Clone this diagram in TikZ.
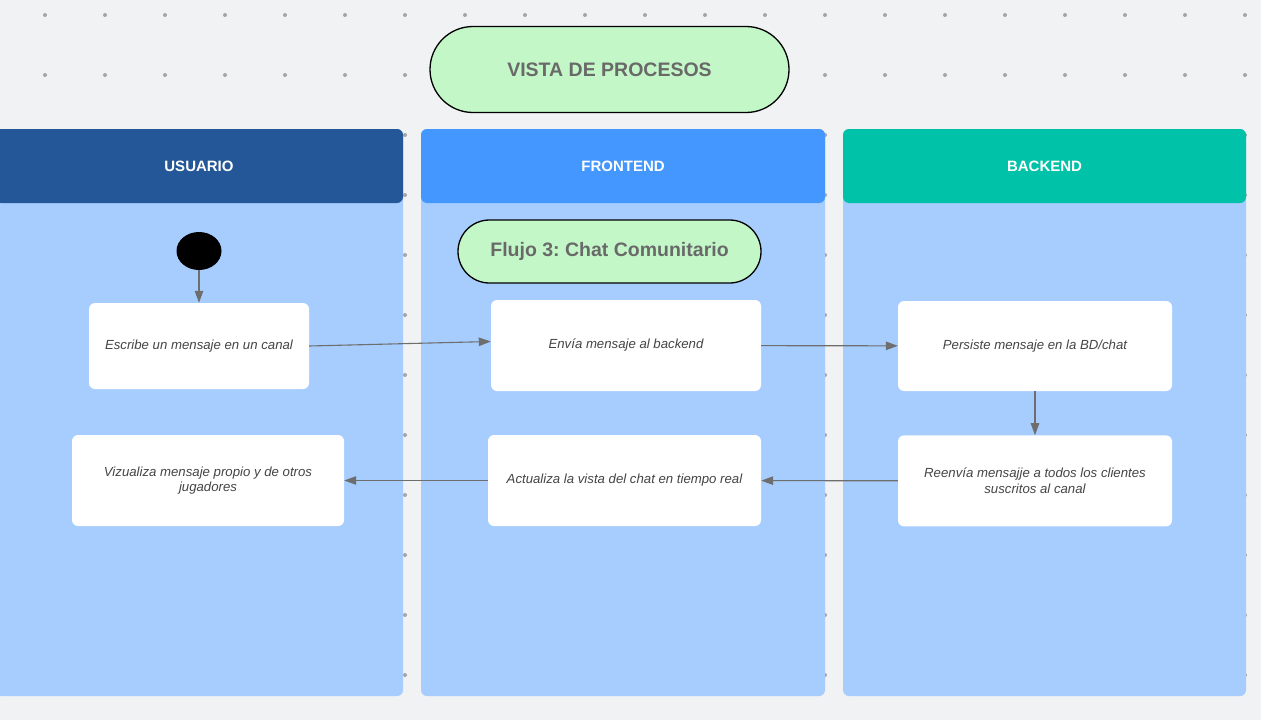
\documentclass[tikz,border=0pt]{standalone}
\usepackage{fontspec}
\setmainfont{Liberation Sans}
\usetikzlibrary{positioning,shapes.geometric,arrows.meta}
\frenchspacing

\definecolor{bggray}{HTML}{F1F2F4}
\definecolor{dotgray}{HTML}{A3A5A9}
\definecolor{laneblue}{HTML}{A6CDFE}
\definecolor{userblue}{HTML}{235797}
\definecolor{frontblue}{HTML}{4497FE}
\definecolor{backgreen}{HTML}{00C2A8}
\definecolor{pillgreen}{HTML}{C3F7C8}
\definecolor{titlegray}{HTML}{696969}
\definecolor{textgray}{HTML}{454545}
\definecolor{arrowgray}{HTML}{6E6E6E}

\begin{document}
\begin{tikzpicture}[x=1pt, y=-1pt]
		\tikzset{
			lanehead/.style={rounded corners=6pt, minimum height=74pt, inner sep=0pt,
				text=white, font=\bfseries\fontsize{15}{18}\selectfont},
			act/.style={fill=white, rounded corners=6pt, inner sep=0pt, align=center,
				text=textgray, font=\itshape\fontsize{13.2}{15.5}\selectfont},
			pill/.style={draw=black, line width=1.3pt, fill=pillgreen, inner sep=0pt,
				text=titlegray, font=\bfseries},
			flow/.style={draw=arrowgray, line width=1.1pt, -{Triangle[length=12pt,width=8.5pt]}}
		}
		\useasboundingbox (0,0) rectangle (1261,720);
		\fill[bggray] (0,0) rectangle (1261,720);
		% dotted grid
		\foreach \i in {0,...,20}
			\foreach \j in {0,...,11}
				\fill[dotgray] (45+60*\i, 15+60*\j) circle (2pt);
		% swimlanes
		\foreach \name/\xa/\xb/\col/\txt in {usr/-5/403/userblue/USUARIO,
			fro/421/825/frontblue/FRONTEND, bac/843/1246/backgreen/BACKEND}{
			\fill[laneblue, rounded corners=6pt] (\xa,129) rectangle (\xb,696);
			\node[lanehead, fill=\col, minimum width=\xb-\xa] (\name)
				at ({(\xa+\xb)/2},166) {\txt};
		}
		% titles
		\node[pill, rounded corners=43pt, minimum width=359pt, minimum height=86pt,
			font=\bfseries\fontsize{19.5}{24}\selectfont] (title) at (609.5,69.5) {VISTA DE PROCESOS};
		\node[pill, rounded corners=31.5pt, minimum width=303pt, minimum height=63pt,
			font=\bfseries\fontsize{19.5}{22}\selectfont] (flujo) at (609.5,251.5) {Flujo 3: Chat Comunitario};
		% activities
		\node[ellipse, fill=black, minimum width=45pt, minimum height=38pt, inner sep=0pt] (start) at (199,251) {};
		\node[act, minimum width=220pt, minimum height=86pt] (esc) at (199,346) {Escribe un mensaje en un canal};
		\node[act, minimum width=270pt, minimum height=91pt] (env) at (626,345.5) {Envía mensaje al backend};
		\node[act, minimum width=274pt, minimum height=90pt] (per) at (1035,346) {Persiste mensaje en la BD/chat};
		\node[act, minimum width=274pt, minimum height=91pt, below=44pt of per] (ree)
			{Reenvía mensajje a todos los clientes\\suscritos al canal};
		\node[act, minimum width=273pt, minimum height=91pt] (upd) at (624.5,480.5) {Actualiza la vista del chat en tiempo real};
		\node[act, minimum width=272pt, minimum height=91pt] (viz) at (208,480.5) {Vizualiza mensaje propio y de otros\\jugadores};
		% flows
		\draw[flow] (start) -- (esc);
		\draw[flow] (esc.east) -- ([yshift=4pt]env.west);
		\draw[flow] (env) -- (per);
		\draw[flow] (per) -- (ree);
		\draw[flow] (ree) -- (upd);
		\draw[flow] (upd) -- (viz);
	\end{tikzpicture}
\end{document}
